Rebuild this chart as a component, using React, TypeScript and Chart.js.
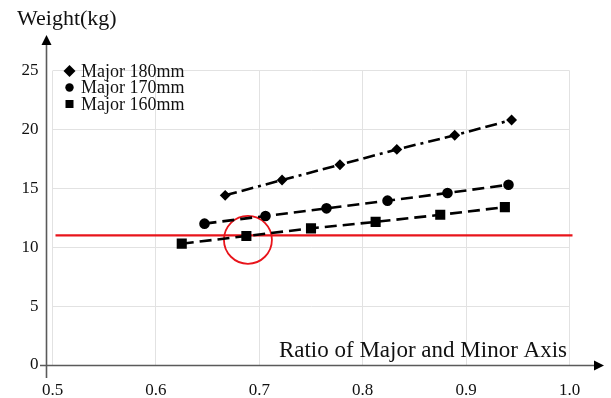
import React, { useEffect, useRef } from "react";
import { Chart, registerables } from "chart.js";

Chart.register(...registerables);

const seriesLabels = ["Major 180mm", "Major 170mm", "Major 160mm"];
const ratio180 = [0.667, 0.722, 0.778, 0.833, 0.889, 0.944];
const weight180 = [14.4, 15.7, 17.0, 18.3, 19.5, 20.8];
const ratio170 = [0.647, 0.706, 0.765, 0.824, 0.882, 0.941];
const weight170 = [12.0, 12.65, 13.3, 13.95, 14.6, 15.3];
const ratio160 = [0.625, 0.6875, 0.75, 0.8125, 0.875, 0.9375];
const weight160 = [10.3, 10.95, 11.6, 12.15, 12.75, 13.4];
const limitWeight = 11;
const highlightPoint = { x: 0.689, y: 10.63 };
const xTickLabels = ["0.5", "0.6", "0.7", "0.8", "0.9", "1.0"];
const yTickLabels = ["0", "5", "10", "15", "20", "25"];
const yAxisTitle = "Weight(kg)";
const xAxisTitle = "Ratio of Major and Minor Axis";

const FONT = "'Liberation Serif', 'DejaVu Serif', serif";

function pts(xs: number[], ys: number[]) {
  return xs.map((x, i) => ({ x, y: ys[i] }));
}

function drawMarker(ctx: CanvasRenderingContext2D, style: string, x: number, y: number, r: number) {
  ctx.beginPath();
  if (style === "rectRot") {
    ctx.moveTo(x, y - r);
    ctx.lineTo(x + r, y);
    ctx.lineTo(x, y + r);
    ctx.lineTo(x - r, y);
    ctx.closePath();
  } else if (style === "circle") {
    ctx.arc(x, y, r, 0, Math.PI * 2);
  } else {
    ctx.rect(x - r, y - r, 2 * r, 2 * r);
  }
  ctx.fill();
}

const overlayPlugin = {
  id: "overlay",
  beforeDatasetsDraw(chart: any) {
    const { ctx, chartArea, scales } = chart;
    const y = scales.y.getPixelForValue(limitWeight);
    ctx.save();
    ctx.strokeStyle = "#e8141b";
    ctx.lineWidth = 2.2;
    ctx.beginPath();
    ctx.moveTo(chartArea.left + 3, y);
    ctx.lineTo(chartArea.right + 3, y);
    ctx.stroke();
    ctx.restore();
  },
  afterDraw(chart: any) {
    const { ctx, chartArea, scales } = chart;
    const xs = scales.x;
    const ys = scales.y;
    ctx.save();
    const axX = chartArea.left - 6;
    const axY = ys.getPixelForValue(0) + 0.5;
    ctx.strokeStyle = "#5a5a5a";
    ctx.lineWidth = 1.6;
    ctx.beginPath();
    ctx.moveTo(axX, 42);
    ctx.lineTo(axX, 378);
    ctx.moveTo(40, axY);
    ctx.lineTo(596, axY);
    ctx.stroke();
    ctx.fillStyle = "#000";
    ctx.beginPath();
    ctx.moveTo(axX, 35);
    ctx.lineTo(axX - 5, 45);
    ctx.lineTo(axX + 5, 45);
    ctx.closePath();
    ctx.fill();
    ctx.beginPath();
    ctx.moveTo(604, axY);
    ctx.lineTo(594, axY - 5);
    ctx.lineTo(594, axY + 5);
    ctx.closePath();
    ctx.fill();

    ctx.fillStyle = "#111";
    ctx.font = `17px ${FONT}`;
    ctx.textAlign = "right";
    ctx.textBaseline = "middle";
    yTickLabels.forEach((t) => {
      ctx.fillText(t, 38.5, ys.getPixelForValue(parseFloat(t)));
    });
    ctx.textAlign = "center";
    ctx.textBaseline = "alphabetic";
    xTickLabels.forEach((t) => {
      ctx.fillText(t, xs.getPixelForValue(parseFloat(t)), 395);
    });

    ctx.font = `22px ${FONT}`;
    ctx.textAlign = "left";
    ctx.fillText(yAxisTitle, 17, 25);
    ctx.font = `23px ${FONT}`;
    ctx.textAlign = "right";
    ctx.fillText(xAxisTitle, 567, 357);

    const styles = ["rectRot", "circle", "rect"];
    const sizes = [6, 4.2, 4];
    ctx.font = `18px ${FONT}`;
    ctx.textAlign = "left";
    ctx.textBaseline = "middle";
    seriesLabels.forEach((lab, i) => {
      const cy = 71 + i * 16.5;
      ctx.fillStyle = "#000";
      drawMarker(ctx, styles[i], 69.5, cy, sizes[i]);
      ctx.fillStyle = "#111";
      ctx.fillText(lab, 81, cy + 1);
    });
    ctx.restore();
  },
};

export default function App() {
  const ref = useRef<HTMLCanvasElement>(null);
  useEffect(() => {
    document.body.style.margin = "0";
    const canvas = ref.current!;
    const common = {
      borderColor: "#000",
      backgroundColor: "#000",
      pointBorderColor: "#000",
      pointBackgroundColor: "#000",
      borderWidth: 2.6,
      showLine: true,
      fill: false,
      tension: 0,
    };
    const chart = new Chart(canvas, {
      type: "scatter",
      data: {
        datasets: [
          {
            ...common,
            label: seriesLabels[0],
            data: pts(ratio180, weight180),
            pointStyle: "rectRot",
            pointRadius: 3.6,
            borderDash: [12, 5, 12, 5, 3, 5],
          },
          {
            ...common,
            label: seriesLabels[1],
            data: pts(ratio170, weight170),
            pointStyle: "circle",
            pointRadius: 4,
            borderDash: [12, 6],
          },
          {
            ...common,
            label: seriesLabels[2],
            data: pts(ratio160, weight160),
            pointStyle: "rect",
            pointRadius: 5.3,
            borderDash: [12, 6],
          },
          {
            label: "highlight",
            data: [highlightPoint],
            showLine: false,
            pointStyle: "circle",
            pointRadius: 24,
            pointBorderWidth: 1.8,
            pointBorderColor: "#e8141b",
            pointBackgroundColor: "rgba(0,0,0,0)",
          },
        ],
      } as any,
      options: {
        animation: false,
        responsive: false,
        maintainAspectRatio: false,
        layout: { padding: { left: 52.5, right: 41.5, top: 70.5, bottom: 33 } },
        plugins: { legend: { display: false }, tooltip: { enabled: false } },
        scales: {
          x: {
            type: "linear",
            min: 0.5,
            max: 1.0,
            ticks: { display: false, stepSize: 0.1 },
            grid: { color: "#e2e2e2", lineWidth: 1, drawTicks: false },
            border: { display: false },
          },
          y: {
            type: "linear",
            min: 0,
            max: 25,
            ticks: { display: false, stepSize: 5 },
            grid: { color: "#e2e2e2", lineWidth: 1, drawTicks: false },
            border: { display: false },
          },
        },
      } as any,
      plugins: [overlayPlugin],
    });
    return () => chart.destroy();
  }, []);
  return (
    <div style={{ width: 611, height: 398, background: "#fff" }}>
      <canvas ref={ref} width={611} height={398} style={{ display: "block" }} />
    </div>
  );
}
